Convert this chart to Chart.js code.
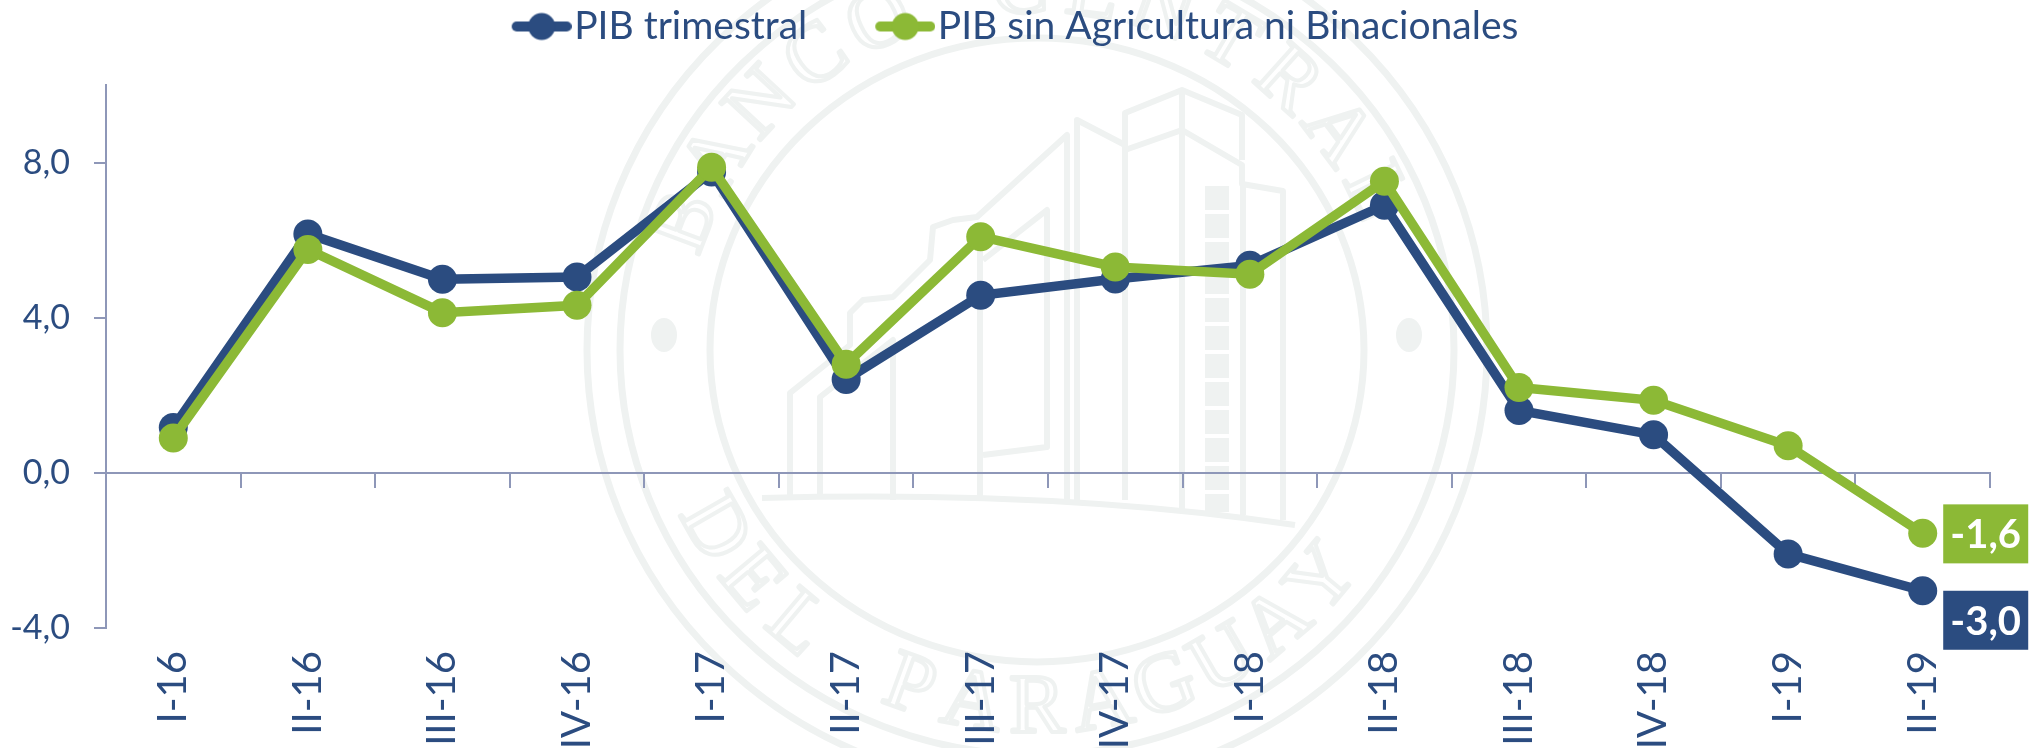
<!DOCTYPE html>
<html>
<head>
<meta charset="utf-8">
<title>PIB trimestral</title>
<script src="https://cdn.jsdelivr.net/npm/chart.js@4"></script>
<style>
    html, body { margin: 0; padding: 0; background: #fff; overflow: hidden; }
    #wrap { width: 2035px; height: 748px; }
</style>
</head>
<body>
<div id="wrap"><canvas id="chart"></canvas></div>
<script>
const quarters = ['I-16', 'II-16', 'III-16', 'IV-16', 'I-17', 'II-17', 'III-17', 'IV-17', 'I-18', 'II-18', 'III-18', 'IV-18', 'I-19', 'II-19'];
const pibTrimestral = [1.17, 6.16, 4.99, 5.05, 7.76, 2.41, 4.58, 5.0, 5.35, 6.9, 1.61, 0.98, -2.09, -3.04];
const pibSinAgro = [0.9, 5.76, 4.13, 4.32, 7.88, 2.8, 6.09, 5.31, 5.12, 7.52, 2.2, 1.87, 0.7, -1.56];
const yTicks = [-4, 0, 4, 8];

const BLUE = '#2B4C80';
const GREEN = '#8CB936';
const AXIS = '#8E97B8';
const SEAL = '#EFF2F1';
const FONT = 'Lato';

const formatValue = v => v.toFixed(1).replace('.', ',');

// legend symbol: line with a dot on it, padded left so it ends next to the text
function legendSymbol(color) {
    const c = document.createElement('canvas');
    c.width = 77;
    c.height = 30;
    const g = c.getContext('2d');
    g.strokeStyle = color;
    g.lineWidth = 10;
    g.lineCap = 'round';
    g.beginPath();
    g.moveTo(22, 15);
    g.lineTo(72, 15);
    g.stroke();
    g.fillStyle = color;
    g.beginPath();
    g.arc(47, 15, 13.5, 0, Math.PI * 2);
    g.fill();
    return c;
}

// the big item gap also pads the legend on top, so pull it back up and over
const legendPlacement = {
    id: 'legendPlacement',
    afterLayout(chart) {
        const legend = chart.legend;
        legend.top = -61;
        legend.left += 20;
        legend.right += 20;
    }
};

const lastValueBoxes = {
    id: 'lastValueBoxes',
    afterDatasetsDraw(chart) {
        const ctx = chart.ctx;
        const boxes = [
            { ds: 1, color: GREEN, top: -29 },
            { ds: 0, color: BLUE, top: 0 }
        ];
        boxes.forEach(b => {
            const data = chart.data.datasets[b.ds].data;
            const pt = chart.getDatasetMeta(b.ds).data[data.length - 1];
            const x = pt.x + 20.5;
            const y = pt.y + b.top;
            ctx.save();
            ctx.fillStyle = b.color;
            ctx.fillRect(x, y, 85, 59);
            ctx.fillStyle = '#fff';
            ctx.font = '700 40px ' + FONT;
            ctx.textAlign = 'center';
            ctx.textBaseline = 'middle';
            ctx.fillText(formatValue(data[data.length - 1]), x + 42.5, y + 31);
            ctx.restore();
        });
    }
};

// faint seal behind the chart
const seal = {
    id: 'seal',
    beforeDraw(chart) {
        const ctx = chart.ctx;
        const cx = 1037, cy = 350;
        const line = pts => {
            ctx.beginPath();
            pts.forEach((p, i) => i ? ctx.lineTo(p[0], p[1]) : ctx.moveTo(p[0], p[1]));
            ctx.stroke();
        };
        ctx.save();
        ctx.strokeStyle = SEAL;
        ctx.fillStyle = SEAL;
        ctx.lineJoin = 'round';
        ctx.lineWidth = 7;
        [[450, 438], [417, 405], [327, 312]].forEach(r => {
            ctx.beginPath();
            ctx.ellipse(cx, cy, r[0], r[1], 0, 0, Math.PI * 2);
            ctx.stroke();
        });
        [-373, 372].forEach(dx => {
            ctx.beginPath();
            ctx.ellipse(cx + dx, 335, 13, 17, 0, 0, Math.PI * 2);
            ctx.fill();
        });

        // buildings
        ctx.lineWidth = 6;
        line([[790, 497], [790, 393], [850, 345], [850, 313], [863, 300], [893, 297], [930, 260], [933, 227], [953, 220], [977, 217], [1067, 135], [1067, 500]]);
        line([[820, 497], [820, 397], [893, 340], [893, 500]]);
        line([[980, 225], [980, 500]]);
        line([[983, 260], [1047, 210], [1047, 447], [983, 455]]);
        line([[1077, 500], [1077, 120], [1125, 145]]);
        line([[1125, 500], [1125, 113], [1182, 90], [1242, 115], [1242, 160]]);
        line([[1125, 150], [1182, 130], [1242, 165], [1242, 184], [1283, 191], [1283, 520]]);
        line([[1182, 90], [1182, 510]]);
        line([[1243, 184], [1243, 515]]);
        ctx.beginPath();
        ctx.moveTo(762, 498);
        ctx.quadraticCurveTo(1060, 490, 1295, 525);
        ctx.stroke();
        ctx.save();
        ctx.lineWidth = 24;
        ctx.setLineDash([24, 4]);
        line([[1217, 186], [1217, 512]]);
        ctx.restore();

        // lettering around the ring
        ctx.lineWidth = 4;
        ctx.font = '84px "Liberation Serif"';
        ctx.textAlign = 'center';
        ctx.textBaseline = 'middle';
        const arcText = (text, start, step) => {
            [...text].forEach((ch, i) => {
                const a = start + i * step;
                ctx.save();
                ctx.translate(cx + Math.cos(a) * 374, cy + Math.sin(a) * 360);
                ctx.rotate(a + (step > 0 ? Math.PI / 2 : -Math.PI / 2));
                ctx.strokeText(ch, 0, 0);
                ctx.restore();
            });
        };
        arcText('BANCO CENTRAL', -2.78, 0.194);
        arcText('DEL PARAGUAY', 2.62, -0.175);
        ctx.restore();
    }
};

new Chart(document.getElementById('chart'), {
    type: 'line',
    data: {
        labels: quarters,
        datasets: [
            { label: 'PIB trimestral', data: pibTrimestral, order: 2, borderColor: BLUE, backgroundColor: BLUE, borderWidth: 9.5, pointRadius: 14.5, pointHoverRadius: 14.5, pointBorderWidth: 0, tension: 0, clip: false, symbol: legendSymbol(BLUE) },
            { label: 'PIB sin Agricultura ni Binacionales', data: pibSinAgro, order: 1, borderColor: GREEN, backgroundColor: GREEN, borderWidth: 9.5, pointRadius: 14.5, pointHoverRadius: 14.5, pointBorderWidth: 0, tension: 0, clip: false, symbol: legendSymbol(GREEN) }
        ]
    },
    options: {
        responsive: true,
        maintainAspectRatio: false,
        animation: false,
        layout: { padding: { top: 0, right: 45, bottom: 0, left: 0 } },
        plugins: {
            tooltip: { enabled: false },
            legend: {
                position: 'top',
                maxHeight: 85,
                labels: {
                    usePointStyle: true,
                    pointStyleWidth: 43,
                    padding: 68,
                    color: BLUE,
                    font: { family: FONT, size: 39 },
                    generateLabels(chart) {
                        return chart.data.datasets.map((ds, i) => ({
                            text: ds.label,
                            fontColor: BLUE,
                            pointStyle: ds.symbol,
                            datasetIndex: i,
                            lineWidth: 0
                        }));
                    }
                }
            }
        },
        scales: {
            // labels along the bottom
            x: {
                offset: true,
                grid: { display: false },
                border: { display: false },
                ticks: {
                    color: BLUE,
                    padding: 15,
                    autoSkip: false,
                    minRotation: 90,
                    maxRotation: 90,
                    font: { family: FONT, size: 40 }
                },
                afterFit(s) { s.height = 120; }
            },
            // the axis line and its ticks at y=0
            x2: {
                type: 'category',
                axis: 'x',
                position: { y: 0 },
                offset: true,
                grid: { display: true, drawOnChartArea: false, tickLength: 14, offset: true, color: AXIS, lineWidth: 2 },
                border: { color: AXIS, width: 2 },
                ticks: { display: false, autoSkip: false },
                afterFit(s) { s.height = 0; }
            },
            y: {
                min: -4,
                max: 10,
                afterBuildTicks(s) { s.ticks = yTicks.map(v => ({ value: v })); },
                grid: { drawOnChartArea: false, tickLength: 12, color: AXIS, lineWidth: 2 },
                border: { color: AXIS, width: 2 },
                ticks: {
                    color: BLUE,
                    padding: 24,
                    font: { family: FONT, size: 34 },
                    callback: v => formatValue(v)
                },
                afterFit(s) { s.width = 106; }
            }
        }
    },
    plugins: [seal, legendPlacement, lastValueBoxes]
});
</script>
</body>
</html>
